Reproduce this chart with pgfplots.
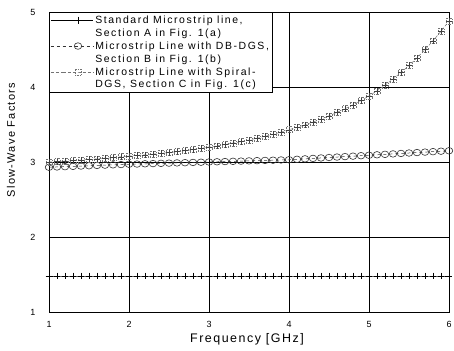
\documentclass[border=0pt]{standalone}
\usepackage{pgfplots}
\usepackage{pgfplotstable}
\pgfplotsset{compat=1.18}
\usepackage{fontspec}
\setmainfont{Liberation Sans}
\newfontfamily\trackfont[LetterSpace=12]{Liberation Sans}
\newfontfamily\legfont[LetterSpace=15]{Liberation Sans}
\pgfplotstableread{
x std db sp
1.0 1.48 2.930 3.000
1.1 1.48 2.934 3.006
1.2 1.48 2.938 3.012
1.3 1.48 2.942 3.019
1.4 1.48 2.946 3.026
1.5 1.48 2.950 3.034
1.6 1.48 2.954 3.042
1.7 1.48 2.958 3.051
1.8 1.48 2.962 3.060
1.9 1.48 2.966 3.070
2.0 1.48 2.970 3.080
2.1 1.48 2.973 3.088
2.2 1.48 2.976 3.096
2.3 1.48 2.979 3.105
2.4 1.48 2.982 3.115
2.5 1.48 2.985 3.126
2.6 1.48 2.988 3.139
2.7 1.48 2.991 3.152
2.8 1.48 2.994 3.166
2.9 1.48 2.997 3.182
3.0 1.48 3.000 3.200
3.1 1.48 3.003 3.216
3.2 1.48 3.006 3.233
3.3 1.48 3.009 3.252
3.4 1.48 3.012 3.272
3.5 1.48 3.015 3.293
3.6 1.48 3.018 3.317
3.7 1.48 3.021 3.342
3.8 1.48 3.024 3.369
3.9 1.48 3.027 3.398
4.0 1.48 3.030 3.430
4.1 1.48 3.036 3.462
4.2 1.48 3.042 3.496
4.3 1.48 3.048 3.533
4.4 1.48 3.054 3.572
4.5 1.48 3.060 3.615
4.6 1.48 3.066 3.661
4.7 1.48 3.072 3.710
4.8 1.48 3.078 3.762
4.9 1.48 3.084 3.819
5.0 1.48 3.090 3.880
5.1 1.48 3.096 3.949
5.2 1.48 3.102 4.024
5.3 1.48 3.108 4.105
5.4 1.48 3.114 4.193
5.5 1.48 3.120 4.287
5.6 1.48 3.126 4.388
5.7 1.48 3.132 4.498
5.8 1.48 3.138 4.616
5.9 1.48 3.144 4.743
6.0 1.48 3.150 4.880
}\data
\begin{document}
\begin{tikzpicture}
\begin{axis}[
  scale only axis,
  width=400bp, height=300bp,
  xmin=1, xmax=6, ymin=1, ymax=5,
  xtick={1,2,3,4,5,6}, ytick={1,2,3,4,5},
  major tick length=0pt,
  grid=major,
  major grid style={black, line width=0.7pt},
  axis line style={black, line width=0.9pt},
  /pgf/number format/assume math mode=true,
  tick label style={font=\fontsize{9}{10}\selectfont},
  xticklabel style={yshift=-6bp},
  yticklabel style={xshift=-10bp},
  xlabel={Frequency [GHz]},
  ylabel={Slow-Wave Factors},
  xlabel style={font=\trackfont\fontsize{12.5}{14}\selectfont, at={(axis description cs:0.495,0)}, anchor=north, yshift=-18bp},
  ylabel style={font=\trackfont\fontsize{11}{12}\selectfont, at={(axis description cs:-0.095,0.573)}, anchor=center},
  legend style={at={(0,1)}, anchor=north west, draw=black, line width=0.8pt,
     fill=white, font=\legfont\fontsize{10.5}{12}\selectfont, inner sep=1.2pt, row sep=0pt,
     cells={text height=7.5bp, text depth=2.3bp, inner ysep=1.2bp}},
  legend cell align=left,
  legend image code/.code={\path (0bp,0bp) -- (12bp,0bp); \draw[mark repeat=2,mark phase=2,line width=0.6pt] plot coordinates {(12bp,0bp) (27bp,0bp) (42bp,0bp)};},
]
\addplot[black, line width=0.8pt, mark=+, mark size=3.5pt, mark options={solid, line width=0.6pt}]
  table[x=x, y=std] {\data};
\addlegendentry{Standard Microstrip line,}
\addlegendimage{empty legend}
\addlegendentry{Section A in Fig. 1(a)}
\addplot[black!80, dashed, line width=0.5pt, mark=o, mark size=3.3pt, mark options={solid, line width=0.6pt, xscale=1.15}]
  table[x=x, y=db] {\data};
\addlegendentry{Microstrip Line with DB-DGS,}
\addlegendimage{empty legend}
\addlegendentry{Section B in Fig. 1(b)}
\addplot[black!55, densely dashed, line width=0.5pt, mark=square, mark size=3pt, mark options={densely dotted, line width=0.6pt}]
  table[x=x, y=sp] {\data};
\addlegendentry{Microstrip Line with Spiral-}
\addlegendimage{empty legend}
\addlegendentry{DGS, Section C in Fig. 1(c)}
\addplot[forget plot, draw=none, mark=+, mark size=3pt, mark options={black!75, line width=0.5pt}]
  table[x=x, y=sp] {\data};
\end{axis}
\pgfresetboundingbox
\path[use as bounding box] ([shift={(-49bp,-39bp)}]current axis.south west) rectangle ([shift={(5bp,12bp)}]current axis.north east);
\end{tikzpicture}
\end{document}
